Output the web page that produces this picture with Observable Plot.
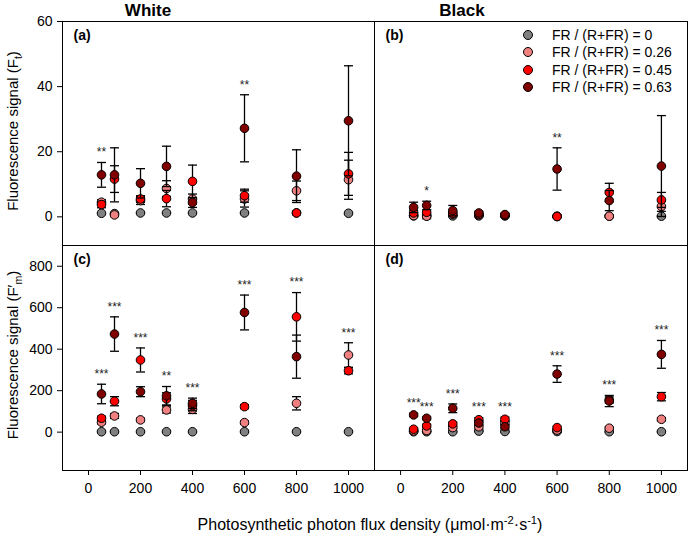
<!DOCTYPE html>
<html><head><meta charset="utf-8">
<script src="https://cdn.jsdelivr.net/npm/d3@7"></script>
<script src="https://cdn.jsdelivr.net/npm/@observablehq/plot@0.6"></script>
<style>
body{margin:0;background:#fff;font-family:"Liberation Sans",Arial,sans-serif;color:#000;}
#chart{position:relative;width:692px;height:535px;overflow:hidden;background:#fff;}
.abs{position:absolute;white-space:nowrap;line-height:1;}
sub,sup{font-size:70%;line-height:0;}
</style></head><body><div id="chart"></div>
<script>
// ---- data ----
const ppfd = [50, 100, 200, 300, 400, 600, 800, 1000];
const ratios = ["0", "0.26", "0.45", "0.63"];
const seriesColors = ["#808080", "#F08080", "#FF0000", "#800000"];
const xTicks = [0, 200, 400, 600, 800, 1000];
const ftTicks = [0, 20, 40, 60];
const fmTicks = [0, 200, 400, 600, 800];

// (a) Ft, White  — rows: FR/(R+FR) = 0, 0.26, 0.45, 0.63
const ftWhiteMean = [
  [1.1, 1.0, 1.2, 1.2, 1.2, 1.2, 1.2, 1.1],
  [4.5, 0.6, 5.0, 8.7, 5.5, 5.5, 8.0, 11.4],
  [3.8, 11.6, 5.5, 5.6, 10.9, 6.5, 1.2, 13.2],
  [12.9, 12.9, 10.3, 15.5, 4.4, 27.2, 12.5, 29.5]
];
const ftWhiteErr = [
  [0.2, 0.2, 0.2, 0.2, 0.2, 0.2, 0.2, 0.2],
  [0.8, 0.5, 1.2, 2.4, 1.5, 2.5, 3.0, 6.0],
  [1.0, 4.1, 1.0, 2.5, 5.0, 2.0, 0.5, 6.6],
  [3.8, 8.3, 4.5, 6.2, 1.5, 10.3, 8.1, 16.9]
];
const ftWhiteStars = ["**", "", "", "", "", "**", "", ""];

// (b) Ft, Black
const ftBlackMean = [
  [0.3, 0.3, 0.3, 0.3, 0.3, 0.2, 0.2, 0.2],
  [0.4, 0.2, 0.8, 0.6, 0.4, 0.1, 0.2, 3.2],
  [1.2, 1.4, 1.1, 0.8, 0.5, 0.1, 7.5, 5.2],
  [2.9, 3.5, 1.9, 1.2, 0.7, 14.7, 5.0, 15.6]
];
const ftBlackErr = [
  [0.2, 0.2, 0.2, 0.2, 0.2, 0.2, 0.2, 0.2],
  [0.5, 0.8, 0.5, 0.3, 0.2, 0.1, 0.3, 1.5],
  [0.8, 0.8, 0.6, 0.3, 0.2, 0.1, 2.8, 2.3],
  [1.6, 1.3, 1.6, 0.5, 0.4, 6.5, 3.1, 15.5]
];
const ftBlackStars = ["", "*", "", "", "", "**", "", ""];

// (c) F'm, White
const fmWhiteMean = [
  [2, 2, 2, 2, 2, 2, 2, 2],
  [48, 78, 59, 107, 110, 46, 139, 372],
  [67, 149, 348, 160, 128, 123, 556, 296],
  [184, 473, 195, 175, 139, 577, 364, null]
];
const fmWhiteErr = [
  [3, 3, 3, 3, 3, 3, 3, 3],
  [8, 12, 8, 15, 20, 8, 32, 59],
  [10, 22, 58, 30, 25, 10, 117, 15],
  [47, 83, 24, 45, 25, 84, 104, null]
];
const fmWhiteStars = ["***", "***", "***", "**", "***", "***", "***", "***"];

// (d) F'm, Black
const fmBlackMean = [
  [2, 2, 2, 5, 3, 3, 2, 2],
  [6, 8, 22, 26, 45, 10, 19, 62],
  [14, 30, 40, 60, 62, 22, 155, 171],
  [83, 67, 115, 44, 26, 280, 150, 375]
];
const fmBlackErr = [
  [2, 2, 2, 2, 2, 2, 2, 2],
  [4, 4, 6, 10, 10, 4, 6, 8],
  [5, 8, 8, 10, 10, 5, 15, 20],
  [8, 6, 21, 12, 10, 40, 27, 67]
];
const fmBlackStars = ["***", "***", "***", "***", "***", "***", "***", "***"];

// ---- drawing ----
const chart = document.getElementById("chart");
const FONT = "'Liberation Sans', Arial, sans-serif";
const capSymbol = {draw(ctx) { ctx.moveTo(-4.5, 0); ctx.lineTo(4.5, 0); }};

function panel(means, errs, stars, o) {
  const rows = [];
  ratios.forEach((r, i) => ppfd.forEach((x, j) => {
    const m = means[i][j];
    if (m == null) return;
    rows.push({x, y: m, e: errs[i][j] || 0, s: r, k: i});
  }));
  const starRows = ppfd.map((x, j) => ({
    x, label: stars[j],
    top: d3.max(rows.filter(d => d.x === x), d => d.y + d.e)
  })).filter(d => d.label);
  const marks = [Plot.frame({stroke: "black", strokeWidth: 1})];
  ratios.forEach((r, i) => {
    const sub = rows.filter(d => d.k === i);
    const we = sub.filter(d => d.e > 0);
    marks.push(Plot.ruleX(we, {x: "x", y1: d => d.y - d.e, y2: d => d.y + d.e, stroke: "black", strokeWidth: 1.3}));
    marks.push(Plot.dot(we, {x: "x", y: d => d.y + d.e, symbol: capSymbol, fill: "none", stroke: "black", strokeWidth: 1.3}));
    marks.push(Plot.dot(we, {x: "x", y: d => d.y - d.e, symbol: capSymbol, fill: "none", stroke: "black", strokeWidth: 1.3}));
    marks.push(Plot.dot(sub, {x: "x", y: "y", fill: "s", stroke: "black", strokeWidth: 1, r: 4.3}));
  });
  marks.push(Plot.text(starRows, {x: "x", y: "top", text: "label", dy: -10, fontSize: 12, fill: "#222", letterSpacing: "-0.5px"}));
  marks.push(Plot.text([o.tag], {frameAnchor: "top-left", text: d => d, dx: 11, dy: 9, lineAnchor: "top", fontWeight: "bold", fontSize: 14, fill: "black"}));
  const svg = Plot.plot({
    width: o.width, height: o.height,
    marginLeft: o.ml, marginRight: o.mr, marginTop: o.mt, marginBottom: o.mb,
    x: Object.assign({domain: [-100, 1100]}, o.showX
      ? {ticks: xTicks, tickSize: 5, tickPadding: 8, label: null, tickFormat: d3.format("d")}
      : {axis: null}),
    y: Object.assign({domain: o.yDomain}, o.showY
      ? {ticks: o.yTicks, tickSize: 5, tickPadding: 5, label: null, tickFormat: d3.format("d")}
      : {axis: null}),
    color: {type: "ordinal", domain: ratios, range: seriesColors},
    style: {background: "transparent", overflow: "visible", fontFamily: FONT, fontSize: "14px", color: "black"},
    marks
  });
  svg.style.position = "absolute";
  svg.style.left = o.left + "px";
  svg.style.top = o.top + "px";
  svg.style.maxWidth = "none";
  chart.appendChild(svg);
}

const ftDomain = [-8.8, 60];
const fmDomain = [-185, 900];
panel(ftWhiteMean, ftWhiteErr, ftWhiteStars, {tag: "(a)", left: 0, top: 0, width: 380, height: 251, ml: 62, mr: 6, mt: 21, mb: 6, showY: true, showX: false, yDomain: ftDomain, yTicks: ftTicks});
panel(ftBlackMean, ftBlackErr, ftBlackStars, {tag: "(b)", left: 368, top: 0, width: 325, height: 251, ml: 6, mr: 6, mt: 21, mb: 6, showY: false, showX: false, yDomain: ftDomain, yTicks: ftTicks});
panel(fmWhiteMean, fmWhiteErr, fmWhiteStars, {tag: "(c)", left: 0, top: 239, width: 380, height: 262, ml: 62, mr: 6, mt: 6, mb: 31, showY: true, showX: true, yDomain: fmDomain, yTicks: fmTicks});
panel(fmBlackMean, fmBlackErr, fmBlackStars, {tag: "(d)", left: 368, top: 239, width: 325, height: 262, ml: 6, mr: 6, mt: 6, mb: 31, showY: false, showX: true, yDomain: fmDomain, yTicks: fmTicks});

// ---- text outside the plots ----
function addText(html, x, y, css) {
  const d = document.createElement("div");
  d.className = "abs";
  d.innerHTML = html;
  d.style.left = x + "px";
  d.style.top = y + "px";
  d.style.transform = "translate(-50%,-50%)" + (css.rotate ? " rotate(-90deg)" : "");
  d.style.fontSize = css.size + "px";
  if (css.bold) d.style.fontWeight = "bold";
  chart.appendChild(d);
}
addText("White", 148, 10, {size: 17, bold: true});
addText("Black", 462, 10, {size: 17, bold: true});
addText("Fluorescence signal (F<sub>t</sub>)", 12, 131, {size: 15, rotate: true});
addText("Fluorescence signal (F′<sub>m</sub>)", 12, 355, {size: 15, rotate: true});
addText("Photosynthetic photon flux density (μmol·m<sup>-2</sup>·s<sup>-1</sup>)", 370, 525, {size: 16});

// legend
const legend = document.createElement("div");
legend.className = "abs";
legend.style.left = "522px";
legend.style.top = "26px";
legend.style.fontSize = "14px";
ratios.forEach((r, i) => {
  const row = document.createElement("div");
  row.style.cssText = "display:flex;align-items:center;height:17.5px;";
  row.innerHTML = `<svg width="12" height="12" style="position:static;margin-right:18px"><circle cx="6" cy="6" r="4.5" fill="${seriesColors[i]}" stroke="black" stroke-width="1"/></svg><span>FR / (R+FR) = ${r}</span>`;
  legend.appendChild(row);
});
chart.appendChild(legend);
</script></body></html>
